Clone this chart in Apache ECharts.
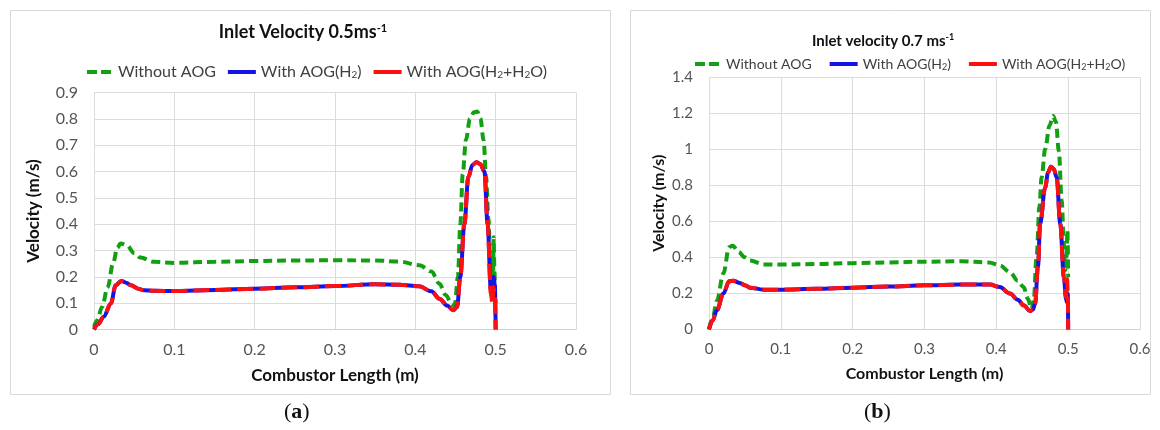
<!DOCTYPE html>
<html>
<head>
<meta charset="utf-8">
<script src="https://cdn.jsdelivr.net/npm/echarts@6/dist/echarts.min.js"></script>
<style>html,body{margin:0;padding:0;background:#fff}#c{width:1160px;height:430px}</style>
</head>
<body>
<div id="c"></div>
<script>
// ---------- data ----------
const xTicks = ['0', '0.1', '0.2', '0.3', '0.4', '0.5', '0.6'];
const seriesNames = ['Without AOG', 'With AOG(H2)', 'With AOG(H2+H2O)'];
const titleA = 'Inlet Velocity 0.5ms';
const titleB = 'Inlet velocity 0.7 ms';

// Panel (a) inlet velocity 0.5 m/s
const aGreenX = [0, 0.004, 0.01, 0.017, 0.024, 0.029, 0.033, 0.041, 0.05, 0.058, 0.075, 0.1, 0.15, 0.2, 0.25, 0.3, 0.35, 0.38, 0.405, 0.42, 0.43, 0.438, 0.445, 0.449, 0.453, 0.456, 0.459, 0.463, 0.468, 0.473, 0.477, 0.481, 0.485, 0.488, 0.491, 0.493, 0.495, 0.4965, 0.4975, 0.4985, 0.4995, 0.5];
const aGreenY = [0.01, 0.035, 0.085, 0.16, 0.255, 0.31, 0.327, 0.32, 0.29, 0.273, 0.257, 0.253, 0.257, 0.26, 0.262, 0.263, 0.262, 0.258, 0.244, 0.22, 0.174, 0.13, 0.098, 0.09, 0.2, 0.4, 0.59, 0.72, 0.8, 0.825, 0.828, 0.80, 0.72, 0.58, 0.42, 0.28, 0.19, 0.22, 0.35, 0.22, 0.12, 0.1];
const aBlueX = [0, 0.005, 0.012, 0.021, 0.027, 0.034, 0.04, 0.046, 0.055, 0.062, 0.075, 0.1, 0.15, 0.2, 0.25, 0.3, 0.35, 0.38, 0.405, 0.42, 0.43, 0.44, 0.447, 0.452, 0.456, 0.461, 0.466, 0.471, 0.476, 0.481, 0.486, 0.49, 0.494, 0.496, 0.4975, 0.499, 0.5];
const aBlueY = [0, 0.02, 0.048, 0.099, 0.168, 0.184, 0.178, 0.168, 0.155, 0.149, 0.147, 0.146, 0.15, 0.155, 0.16, 0.165, 0.172, 0.170, 0.164, 0.145, 0.117, 0.09, 0.073, 0.085, 0.2, 0.40, 0.578, 0.625, 0.635, 0.628, 0.60, 0.40, 0.15, 0.12, 0.2, 0.17, 0];
const aRedX = [0, 0.005, 0.012, 0.021, 0.027, 0.034, 0.04, 0.046, 0.055, 0.062, 0.075, 0.1, 0.15, 0.2, 0.25, 0.3, 0.35, 0.38, 0.405, 0.42, 0.43, 0.44, 0.447, 0.452, 0.456, 0.461, 0.466, 0.471, 0.476, 0.481, 0.486, 0.49, 0.494, 0.496, 0.4975, 0.499, 0.5];
const aRedY = [0, 0.02, 0.048, 0.099, 0.168, 0.184, 0.178, 0.168, 0.155, 0.149, 0.147, 0.146, 0.15, 0.155, 0.16, 0.165, 0.172, 0.170, 0.164, 0.145, 0.117, 0.09, 0.073, 0.085, 0.2, 0.40, 0.578, 0.625, 0.635, 0.628, 0.60, 0.40, 0.136, 0.10, 0.16, 0.12, 0];

// Panel (b) inlet velocity 0.7 m/s
const bGreenX = [0, 0.005, 0.011, 0.02, 0.028, 0.033, 0.041, 0.05, 0.057, 0.076, 0.1, 0.15, 0.2, 0.25, 0.3, 0.35, 0.39, 0.405, 0.419, 0.43, 0.438, 0.444, 0.449, 0.452, 0.456, 0.46, 0.463, 0.468, 0.474, 0.479, 0.483, 0.487, 0.491, 0.494, 0.496, 0.4975, 0.499, 0.5];
const bGreenY = [0.005, 0.06, 0.16, 0.31, 0.456, 0.465, 0.43, 0.40, 0.383, 0.361, 0.36, 0.363, 0.368, 0.372, 0.376, 0.378, 0.372, 0.355, 0.318, 0.27, 0.235, 0.17, 0.11, 0.16, 0.4, 0.68, 0.843, 1.0, 1.13, 1.184, 1.15, 0.99, 0.714, 0.47, 0.33, 0.40, 0.549, 0.29];
const bBlueX = [0, 0.005, 0.011, 0.02, 0.028, 0.034, 0.043, 0.05, 0.057, 0.076, 0.1, 0.15, 0.2, 0.25, 0.3, 0.35, 0.391, 0.405, 0.419, 0.43, 0.438, 0.447, 0.451, 0.454, 0.458, 0.461, 0.468, 0.472, 0.476, 0.48, 0.484, 0.489, 0.494, 0.497, 0.4985, 0.4995, 0.5];
const bBlueY = [0, 0.05, 0.107, 0.199, 0.267, 0.27, 0.258, 0.245, 0.232, 0.221, 0.221, 0.226, 0.232, 0.238, 0.245, 0.249, 0.249, 0.235, 0.199, 0.165, 0.134, 0.103, 0.11, 0.144, 0.35, 0.586, 0.788, 0.87, 0.902, 0.89, 0.843, 0.586, 0.29, 0.17, 0.15, 0.2, 0];
const bRedX = [0, 0.005, 0.011, 0.02, 0.028, 0.034, 0.043, 0.05, 0.057, 0.076, 0.1, 0.15, 0.2, 0.25, 0.3, 0.35, 0.391, 0.405, 0.419, 0.43, 0.438, 0.447, 0.451, 0.454, 0.458, 0.461, 0.468, 0.472, 0.476, 0.48, 0.484, 0.489, 0.494, 0.497, 0.4985, 0.4995, 0.5];
const bRedY = [0, 0.05, 0.107, 0.199, 0.267, 0.27, 0.258, 0.245, 0.232, 0.221, 0.221, 0.226, 0.232, 0.238, 0.245, 0.249, 0.249, 0.235, 0.199, 0.165, 0.134, 0.103, 0.11, 0.144, 0.35, 0.586, 0.788, 0.87, 0.902, 0.89, 0.843, 0.586, 0.29, 0.18, 0.28, 0.2, 0];

// ---------- chart ----------
const zip = (xs, ys) => xs.map((x, i) => [x, ys[i]]);
const FONT = 'Lato';
const GREEN = '#12a012', BLUE = '#1414e6', RED = '#ff1010';
const rich = {
  sub: { fontSize: 10, verticalAlign: 'bottom', padding: [6, 0, 0, 0], fontFamily: FONT, color: '#404040' },
  subB: { fontSize: 9, verticalAlign: 'bottom', padding: [6, 0, 0, 0], fontFamily: FONT, color: '#404040' }
};
function legendFmt(name, key) {
  if (name === seriesNames[1]) return 'With AOG(H{' + key + '|2})';
  if (name === seriesNames[2]) return 'With AOG(H{' + key + '|2}+H{' + key + '|2}O)';
  return name;
}

function mkSeries(name, data, idx, color, kind) {
  const s = {
    name: name, type: 'line', xAxisIndex: idx, yAxisIndex: idx,
    data: data, showSymbol: false, symbol: 'none',
    smooth: 0.35, smoothMonotone: 'x',
    lineStyle: { color: color, width: 4 },
    itemStyle: { color: color }, z: 2
  };
  if (kind === 'dash') s.lineStyle.type = [9, 5];
  if (kind === 'redDash') { s.lineStyle.type = [16, 6]; s.lineStyle.cap = 'butt'; s.z = 3; }
  return s;
}

function mkX(idx, fs) {
  return {
    type: 'value', gridIndex: idx, min: 0, max: 0.6, interval: 0.1,
    name: 'Combustor Length (m)', nameLocation: 'middle', nameGap: idx === 0 ? 38 : 36,
    nameTextStyle: { fontFamily: FONT, fontWeight: 'bold', fontSize: idx === 0 ? 17 : 16, color: '#111' },
    axisLine: { show: true, lineStyle: { color: '#d0d0d0', width: 1 } },
    axisTick: { show: false },
    axisLabel: { fontFamily: FONT, fontSize: fs, color: '#555', margin: 12,
      formatter: v => xTicks[Math.round(v * 10)] },
    splitLine: { show: true, lineStyle: { color: '#dcdcdc', width: 1 } }
  };
}
function mkY(idx, max, interval, fs, gap) {
  return {
    type: 'value', gridIndex: idx, min: 0, max: max, interval: interval,
    name: 'Velocity (m/s)', nameLocation: 'middle', nameGap: gap,
    nameTextStyle: { fontFamily: FONT, fontWeight: 'bold', fontSize: idx === 0 ? 17 : 16, color: '#111' },
    axisLine: { show: false }, axisTick: { show: false },
    axisLabel: { fontFamily: FONT, fontSize: fs, color: '#555', margin: 16,
      formatter: v => String(parseFloat(v.toFixed(2))) },
    splitLine: { show: true, lineStyle: { color: '#dcdcdc', width: 1 } }
  };
}

function mkLegend(idx, left, top, fs, gap) {
  const key = idx === 0 ? 'sub' : 'subB';
  return {
    left: left, top: top, itemWidth: 28, itemHeight: 4, itemGap: gap,
    textStyle: { fontFamily: FONT, fontSize: fs, color: '#404040', rich: rich },
    formatter: n => legendFmt(n, key),
    data: [
      { name: seriesNames[0], icon: 'path://M0,0 L10,0 L10,4 L0,4 Z M14,0 L24,0 L24,4 L14,4 Z', itemStyle: { color: GREEN } },
      { name: seriesNames[1], icon: 'rect', itemStyle: { color: BLUE } },
      { name: seriesNames[2], icon: 'rect', itemStyle: { color: RED } }
    ]
  };
}

const chart = echarts.init(document.getElementById('c'), null, { renderer: 'canvas' });
chart.setOption({
  backgroundColor: '#fff',
  animation: false,
  title: [
    { text: titleA + '{sup|-1}', left: 298, top: 18, textAlign: 'center',
      textStyle: { fontFamily: FONT, fontWeight: 'bold', fontSize: 18, color: '#111',
        rich: { sup: { fontFamily: FONT, fontWeight: 'bold', fontSize: 11, verticalAlign: 'top', padding: [0, 0, 8, 0], color: '#111' } } } },
    { text: titleB + '{sup|-1}', left: 878, top: 28, textAlign: 'center',
      textStyle: { fontFamily: FONT, fontWeight: 'bold', fontSize: 15, color: '#111',
        rich: { sup: { fontFamily: FONT, fontWeight: 'bold', fontSize: 9, verticalAlign: 'top', padding: [0, 0, 7, 0], color: '#111' } } } }
  ],
  legend: [mkLegend(0, 82, 59, 16, 12), mkLegend(1, 690, 52, 14, 18)],
  grid: [
    { left: 94, top: 92.5, width: 482, height: 237, containLabel: false },
    { left: 709, top: 77, width: 431, height: 252.5, containLabel: false }
  ],
  xAxis: [mkX(0, 16), mkX(1, 15)],
  yAxis: [mkY(0, 0.9, 0.1, 16, 52), mkY(1, 1.4, 0.2, 15, 42)],
  series: [
    mkSeries(seriesNames[0], zip(aGreenX, aGreenY), 0, GREEN, 'dash'),
    mkSeries(seriesNames[1], zip(aBlueX, aBlueY), 0, BLUE, 'solid'),
    mkSeries(seriesNames[2], zip(aRedX, aRedY), 0, RED, 'redDash'),
    mkSeries(seriesNames[0], zip(bGreenX, bGreenY), 1, GREEN, 'dash'),
    mkSeries(seriesNames[1], zip(bBlueX, bBlueY), 1, BLUE, 'solid'),
    mkSeries(seriesNames[2], zip(bRedX, bRedY), 1, RED, 'redDash')
  ],
  graphic: [
    { type: 'rect', shape: { x: 10.5, y: 10.5, width: 600, height: 384 }, style: { fill: null, stroke: '#d9d9d9', lineWidth: 1 }, z: -1 },
    { type: 'rect', shape: { x: 630.5, y: 10.5, width: 520, height: 384 }, style: { fill: null, stroke: '#d9d9d9', lineWidth: 1 }, z: -1 },
    { type: 'text', left: 284, top: 401, style: { text: '({b|a})', fontFamily: 'Liberation Serif', fontSize: 22, fill: '#111',
      rich: { b: { fontFamily: 'Liberation Serif', fontWeight: 'bold', fontSize: 22, fill: '#111' } } } },
    { type: 'text', left: 864, top: 401, style: { text: '({b|b})', fontFamily: 'Liberation Serif', fontSize: 22, fill: '#111',
      rich: { b: { fontFamily: 'Liberation Serif', fontWeight: 'bold', fontSize: 22, fill: '#111' } } } }
  ]
});
</script>
</body>
</html>
